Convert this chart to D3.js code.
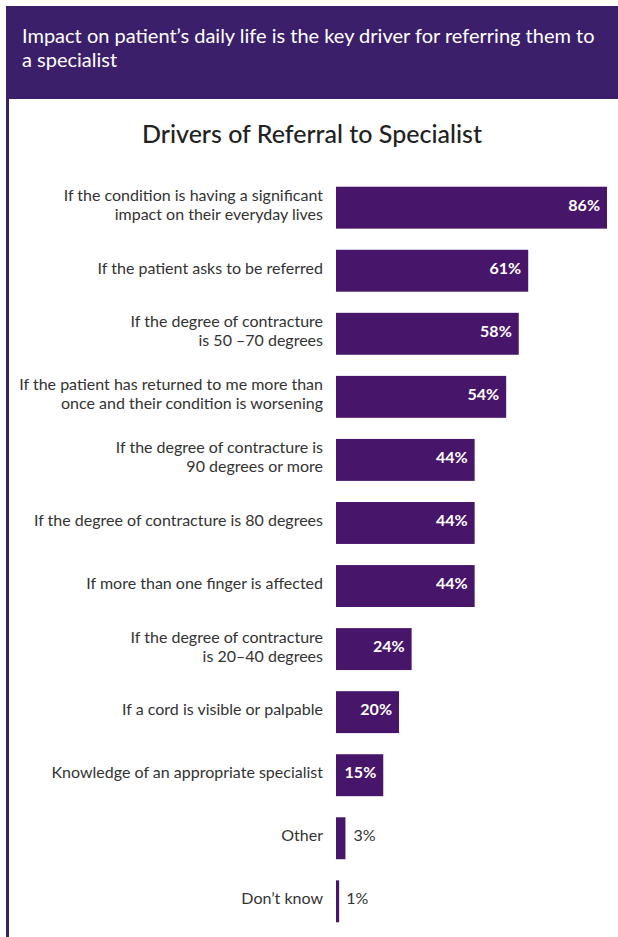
<!DOCTYPE html>
<html>
<head>
<meta charset="utf-8">
<script src="https://cdn.jsdelivr.net/npm/d3@7"></script>
<style>
  html, body { margin: 0; padding: 0; background: #fff; }
  svg { display: block; font-family: Lato, "Noto Sans", sans-serif; }
</style>
</head>
<body>
<div id="chart"></div>
<script>
// data
const categories = [
    ['If the condition is having a significant', 'impact on their everyday lives'],
    ['If the patient asks to be referred'],
    ['If the degree of contracture', 'is 50 \u201370 degrees'],
    ['If the patient has returned to me more than', 'once and their condition is worsening'],
    ['If the degree of contracture is', '90 degrees or more'],
    ['If the degree of contracture is 80 degrees'],
    ['If more than one finger is affected'],
    ['If the degree of contracture', 'is 20\u201340 degrees'],
    ['If a cord is visible or palpable'],
    ['Knowledge of an appropriate specialist'],
    ['Other'],
    ['Don\u2019t know']
];
const values = [86, 61, 58, 54, 44, 44, 44, 24, 20, 15, 3, 1];
const headline = ['Impact on patient\u2019s daily life is the key driver for referring them to', 'a specialist'];
const title = 'Drivers of Referral to Specialist';

const W = 618, H = 937;
const purple = '#3c1f6b', barColor = '#47166a';

const svg = d3.select('#chart').append('svg')
    .attr('width', W).attr('height', H);

// header band + left frame
svg.append('rect').attr('x', 6).attr('y', 6).attr('width', W - 6).attr('height', 93).attr('fill', purple);
svg.append('rect').attr('x', 6).attr('y', 99).attr('width', 3).attr('height', H - 99).attr('fill', purple);

svg.append('text')
    .attr('x', 22).attr('y', 43)
    .attr('fill', '#fff').style('font-size', '20px')
    .selectAll('tspan').data(headline).join('tspan')
    .attr('x', 22).attr('dy', (d, i) => i ? 24 : 0)
    .text(d => d);

svg.append('text')
    .attr('x', 312).attr('y', 143)
    .attr('text-anchor', 'middle')
    .attr('fill', '#222').style('font-size', '25px').style('font-weight', 500)
    .text(title);

const x = d3.scaleLinear().domain([0, 86]).range([336, 607]);
const y = d3.scaleBand().domain(d3.range(values.length)).range([176, 933]).paddingInner(0.335).paddingOuter(0.17);

const rows = svg.append('g').selectAll('g').data(values).join('g')
    .attr('transform', (d, i) => `translate(0,${y(i)})`);

rows.append('rect')
    .attr('x', x(0))
    .attr('width', d => Math.max(2.5, x(d) - x(0)))
    .attr('height', y.bandwidth())
    .attr('fill', barColor);

const bh = y.bandwidth();

rows.append('text')
    .attr('text-anchor', 'end')
    .attr('fill', '#333')
    .style('font-size', '16px')
    .each(function(d, i) {
        const lines = categories[i];
        const t = d3.select(this);
        const start = bh / 2 + 3 - (lines.length - 1) * 9.5;
        lines.forEach((l, j) => {
            t.append('tspan').attr('x', 323).attr('y', start + j * 19).text(l);
        });
    });

rows.append('text')
    .attr('x', d => d >= 10 ? x(d) - 7 : x(d) + (d > 2 ? 8 : 7))
    .attr('y', bh / 2 + 3)
    .attr('text-anchor', d => d >= 10 ? 'end' : 'start')
    .attr('fill', d => d >= 10 ? '#fff' : '#333')
    .style('font-size', '16px')
    .style('font-weight', d => d >= 10 ? 700 : 400)
    .text(d => d + '%');
</script>
</body>
</html>
